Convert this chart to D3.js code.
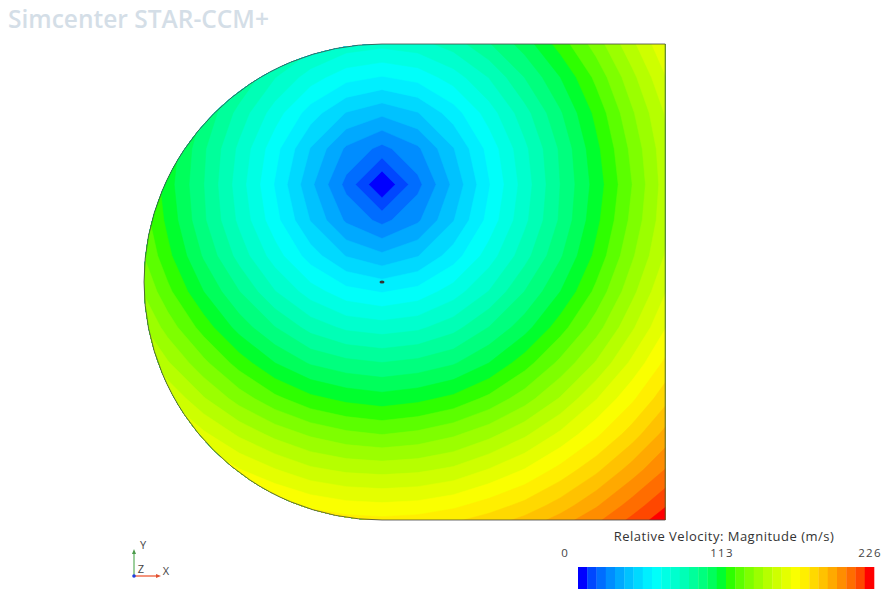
<!DOCTYPE html>
<html>
<head>
<meta charset="utf-8"/>
<script src="https://cdnjs.cloudflare.com/ajax/libs/d3/7.8.5/d3.min.js"></script>
<style>
body { margin: 0; background: #fff; }
text { font-family: "Open Sans", "Noto Sans", sans-serif; }
</style>
</head>
<body>
<script>
const svgW = 881, svgH = 589;

// sample positions of the field (scene units, rotation axis at 0,0)
const gridX = [-1.05, -0.9, -0.75, -0.6, -0.45, -0.3, -0.15, 0, 0.15, 0.3, 0.45, 0.6, 0.75, 0.9, 1.05, 1.2];
const gridY = [1.01, 0.86, 0.71, 0.56, 0.41, 0.26, 0.11, -0.04, -0.19, -0.34, -0.49, -0.64, -0.79, -0.94, -1.09];

// relative velocity magnitude (m/s) at those samples
const velocity = [
  [147, 131, 117, 103,  92,  82,  76,  74,  76,  82,  92, 103, 117, 131, 147, 163],
  [139, 122, 106,  92,  78,  67,  59,  56,  59,  67,  78,  92, 106, 122, 139, 156],
  [133, 115,  98,  82,  67,  53,  42,  37,  42,  53,  67,  82,  98, 115, 133, 150],
  [129, 111,  93,  76,  59,  42,  27,  19,  27,  42,  59,  76,  93, 111, 129, 147],
  [127, 109,  92,  74,  56,  37,  19,   0,  19,  37,  56,  74,  92, 109, 127, 146],
  [129, 111,  93,  76,  59,  42,  27,  19,  27,  42,  59,  76,  93, 111, 129, 147],
  [133, 115,  98,  82,  67,  53,  42,  37,  42,  53,  67,  82,  98, 115, 133, 150],
  [139, 122, 106,  92,  78,  67,  59,  56,  59,  67,  78,  92, 106, 122, 139, 156],
  [147, 131, 117, 103,  92,  82,  76,  74,  76,  82,  92, 103, 117, 131, 147, 163],
  [157, 142, 129, 117, 106,  98,  94,  92,  94,  98, 106, 117, 129, 142, 157, 172],
  [168, 155, 142, 131, 122, 115, 111, 109, 111, 115, 122, 131, 142, 155, 168, 182],
  [180, 168, 157, 147, 139, 133, 129, 127, 129, 133, 139, 147, 157, 168, 180, 194],
  [194, 182, 172, 163, 156, 150, 147, 146, 147, 150, 156, 163, 172, 182, 194, 206],
  [208, 197, 187, 179, 173, 168, 165, 164, 165, 168, 173, 179, 187, 197, 208, 219],
  [222, 212, 204, 196, 190, 186, 183, 182, 183, 186, 190, 196, 204, 212, 222, 233]
];

// colour bar
const vMin = 0, vMax = 226, nLevels = 32;
const tickValues = [0, 113, 226];
const colourStops = ['#0000ff', '#00ffff', '#00ff00', '#ffff00', '#ff0000'];
const legendTitle = 'Relative Velocity: Magnitude (m/s)';

// domain outline: half disc of radius 1 on the left, box out to x = 1.19
const shapeRight = 1.19, shapeRadius = 1;

const svg = d3.select('body').append('svg')
  .attr('width', svgW)
  .attr('height', svgH);

svg.append('text')
  .attr('x', 8).attr('y', 28)
  .attr('font-size', 24.5).attr('font-weight', 600)
  .attr('fill', '#d4dee7')
  .text('Simcenter STAR-CCM+');

const xs = d3.scaleLinear().domain([-1, shapeRight]).range([144, 144 + 238 * (1 + shapeRight)]);
const ys = d3.scaleLinear().domain([-1, 1]).range([520, 44]);

// blue-red map, blended in gamma space so the in-between bands come out lighter
const colour = d3.scaleLinear()
  .domain([0, 0.25, 0.5, 0.75, 1])
  .range(colourStops)
  .interpolate(d3.interpolateRgb.gamma(1.6));
const step = (vMax - vMin) / nLevels;
const thresholds = d3.range(nLevels).map(i => vMin + i * step);

// outline path
const outline = d3.path();
outline.moveTo(xs(0), ys(1));
outline.lineTo(xs(shapeRight), ys(1));
outline.lineTo(xs(shapeRight), ys(-1));
outline.lineTo(xs(0), ys(-1));
outline.arc(xs(0), ys(0), xs(0) - xs(-shapeRadius), Math.PI / 2, Math.PI * 1.5, false);
outline.closePath();

svg.append('clipPath').attr('id', 'domain')
  .append('path').attr('d', outline.toString());

// contour bands
const nx = gridX.length, ny = gridY.length;
const contours = d3.contours().size([nx, ny]).thresholds(thresholds)(velocity.flat());
const gx = d3.scaleLinear().domain([0.5, nx - 0.5]).range([xs(gridX[0]), xs(gridX[nx - 1])]);
const gy = d3.scaleLinear().domain([0.5, ny - 0.5]).range([ys(gridY[0]), ys(gridY[ny - 1])]);
const gridPath = d3.geoPath(d3.geoTransform({
  point: function(x, y) { this.stream.point(gx(x), gy(y)); }
}));

svg.append('g').attr('clip-path', 'url(#domain)')
  .selectAll('path')
  .data(contours)
  .enter().append('path')
  .attr('d', gridPath)
  .attr('fill', (d, i) => colour(i / (nLevels - 1)))
  .attr('stroke', (d, i) => colour(i / (nLevels - 1)))
  .attr('stroke-width', 0.5);

svg.append('path')
  .attr('d', outline.toString())
  .attr('fill', 'none')
  .attr('stroke', '#444')
  .attr('stroke-width', 0.8);

// rotation axis marker
svg.append('ellipse')
  .attr('cx', xs(0)).attr('cy', ys(0))
  .attr('rx', 2.5).attr('ry', 1.5)
  .attr('fill', '#333');

// colour bar
const cb = d3.scaleLinear().domain([vMin, vMax]).range([578, 874]);
svg.append('g').selectAll('rect')
  .data(thresholds)
  .enter().append('rect')
  .attr('x', d => cb(d))
  .attr('y', 567)
  .attr('width', cb(step) - cb(0) + 0.3)
  .attr('height', 25)
  .attr('fill', (d, i) => colour(i / (nLevels - 1)));

svg.append('text')
  .attr('x', 724).attr('y', 541)
  .attr('text-anchor', 'middle')
  .attr('font-size', 13)
  .attr('letter-spacing', 0.5)
  .attr('fill', '#333')
  .text(legendTitle);

svg.append('g').selectAll('text')
  .data(tickValues)
  .enter().append('text')
  .attr('x', (d, i) => i === 0 ? cb(d) - 9 : cb(d) - 4)
  .attr('y', 557)
  .attr('text-anchor', (d, i) => i === 0 ? 'end' : 'middle')
  .attr('font-size', 11.5)
  .attr('letter-spacing', 1.2)
  .attr('fill', '#444')
  .text(d => d);

// axis triad
const triad = svg.append('g').attr('transform', 'translate(134,576)');
triad.append('line').attr('x1', 0).attr('y1', 0).attr('x2', 0).attr('y2', -24)
  .attr('stroke', '#7cbf7c').attr('stroke-width', 1.5);
triad.append('path').attr('d', 'M-2,-22L0,-27L2,-22Z').attr('fill', '#4a9a4a');
triad.append('line').attr('x1', 0).attr('y1', 0).attr('x2', 24).attr('y2', 0)
  .attr('stroke', '#f07050').attr('stroke-width', 1.5);
triad.append('path').attr('d', 'M22,-2L27,0L22,2Z').attr('fill', '#e05030');
triad.append('circle').attr('r', 1.8).attr('fill', '#2040e0');
triad.append('text').attr('x', 9).attr('y', -27).attr('text-anchor', 'middle')
  .attr('font-size', 11).attr('fill', '#444').text('Y');
triad.append('text').attr('x', 7).attr('y', -3).attr('text-anchor', 'middle')
  .attr('font-size', 11).attr('fill', '#444').text('Z');
triad.append('text').attr('x', 32).attr('y', -1).attr('text-anchor', 'middle')
  .attr('font-size', 11).attr('fill', '#444').text('X');
</script>
</body>
</html>
